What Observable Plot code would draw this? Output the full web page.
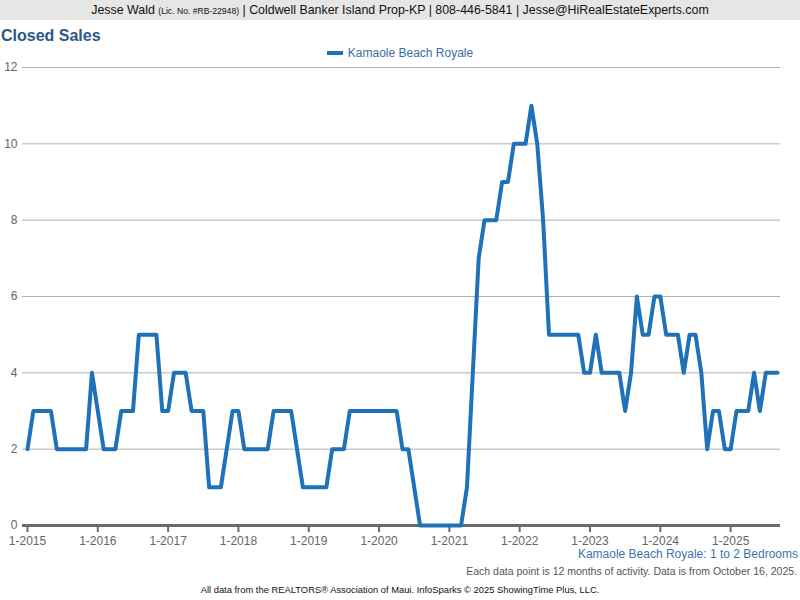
<!DOCTYPE html>
<html>
<head>
<meta charset="utf-8">
<script src="https://cdn.jsdelivr.net/npm/d3@7"></script>
<script src="https://cdn.jsdelivr.net/npm/@observablehq/plot@0.6"></script>
<style>
  html, body { margin: 0; padding: 0; background: #fff; }
  #page { position: relative; width: 800px; height: 600px; overflow: hidden; font-family: "Liberation Sans", Arial, sans-serif; background: #fff; }
  #header { position: absolute; left: 0; top: 0; width: 800px; height: 20px; background: #e6e6e6; color: #111; font-size: 12.4px; line-height: 21px; text-align: center; }
  #header small { font-size: 8.6px; }
  #title { position: absolute; left: 1px; top: 27px; font-size: 16px; line-height: 17px; font-weight: bold; color: #2b5887; }
  #legend { position: absolute; left: 0; top: 47px; width: 800px; text-align: center; font-size: 12px; line-height: 13px; color: #3a6ea5; }
  #legend .sw { display: inline-block; width: 16px; height: 4px; background: #1f72b8; vertical-align: middle; margin-right: 5px; position: relative; top: -1px; }
  #chart { position: absolute; left: 0; top: 60px; }
  #cap1 { position: absolute; right: 2px; top: 550px; font-size: 12px; line-height: 9px; color: #3c74ad; }
  #cap2 { position: absolute; right: 3px; top: 566px; font-size: 10.5px; line-height: 11px; color: #555; }
  #foot { position: absolute; left: 0; width: 800px; top: 585px; text-align: center; font-size: 9.4px; line-height: 10px; color: #111; }
</style>
</head>
<body>
<div id="page">
  <div id="header">Jesse Wald <small>(Lic. No. #RB-22948)</small> | Coldwell Banker Island Prop-KP | 808-446-5841 | Jesse@HiRealEstateExperts.com</div>
  <div id="title">Closed Sales</div>
  <div id="legend"><span class="sw"></span>Kamaole Beach Royale</div>
  <div id="chart"></div>
  <div id="cap1">Kamaole Beach Royale: 1 to 2 Bedrooms</div>
  <div id="cap2">Each data point is 12 months of activity. Data is from October 16, 2025.</div>
  <div id="foot">All data from the REALTORS® Association of Maui. InfoSparks © 2025 ShowingTime Plus, LLC.</div>
</div>
<script>
// Monthly closed sales (rolling 12 months), Jan 2015 .. Sep 2025
const sales2015 = [2,3,3,3,3,2,2,2,2,2,2,4];
const sales2016 = [3,2,2,2,3,3,3,5,5,5,5,3];
const sales2017 = [3,4,4,4,3,3,3,1,1,1,2,3];
const sales2018 = [3,2,2,2,2,2,3,3,3,3,2,1];
const sales2019 = [1,1,1,1,2,2,2,3,3,3,3,3];
const sales2020 = [3,3,3,3,2,2,1,0,0,0,0,0];
const sales2021 = [0,0,0,1,4,7,8,8,8,9,9,10];
const sales2022 = [10,10,11,10,8,5,5,5,5,5,5,4];
const sales2023 = [4,5,4,4,4,4,3,4,6,5,5,6];
const sales2024 = [6,5,5,5,4,5,5,4,2,3,3,2];
const sales2025 = [2,3,3,3,4,3,4,4,4];

const xTickLabels = ["1-2015","1-2016","1-2017","1-2018","1-2019","1-2020","1-2021","1-2022","1-2023","1-2024","1-2025"];
const yTicks = [0,2,4,6,8,10,12];

const sales = [].concat(sales2015, sales2016, sales2017, sales2018, sales2019, sales2020,
                        sales2021, sales2022, sales2023, sales2024, sales2025);
const data = sales.map((v, i) => ({month: i, value: v}));
const xTicks = xTickLabels.map((_, i) => i * 12);

const chart = Plot.plot({
  width: 800,
  height: 500,
  marginTop: 7,
  marginBottom: 35,
  marginLeft: 22,
  marginRight: 20,
  x: {type: "linear", domain: [0, sales.length - 1], range: [27, 777]},
  y: {domain: [0, 12], range: [465, 7]},
  style: {fontFamily: "'Liberation Sans', Arial, sans-serif", fontSize: "12px", background: "#fff", color: "#666", overflow: "visible"},
  marks: [
    Plot.ruleY(yTicks.filter(d => d > 0), {stroke: "#b0b0b0", strokeWidth: 1}),
    Plot.axisY({ticks: yTicks, tickSize: 0, tickPadding: 5, fill: "#666", label: null, fontSize: 12}),
    Plot.ruleY([0], {stroke: "#6a6a6a", strokeWidth: 3}),
    Plot.axisX({ticks: xTicks, tickFormat: (d) => xTickLabels[d / 12], tickSize: 7, tickPadding: 4,
                stroke: "#6a6a6a", strokeWidth: 2, fill: "#666", label: null, fontSize: 12}),
    Plot.lineY(data, {x: "month", y: "value", stroke: "#1f72b8", strokeWidth: 4, strokeLinejoin: "round", strokeLinecap: "round"})
  ]
});
document.getElementById("chart").appendChild(chart);
</script>
</body>
</html>
